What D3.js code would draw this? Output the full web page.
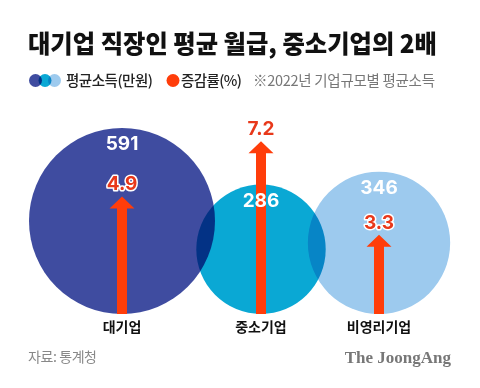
<!DOCTYPE html>
<html><head><meta charset="utf-8">
<script src="https://cdn.jsdelivr.net/npm/d3@7"></script>
<style>
html,body{margin:0;padding:0;background:#fff;}
svg{display:block;font-family:"Noto Sans CJK KR","Noto Sans",sans-serif;}
</style></head><body>
<svg id="c" width="480" height="388"></svg>
<script>
const categories = ["대기업", "중소기업", "비영리기업"];
const income = [591, 286, 346];
const change = [4.9, 7.2, 3.3];
const colors = ["#3f4ca0", "#0aa8d4", "#9dcaee"];
const centersX = [122, 261, 379];

const svg = d3.select("#c");
const baseY = 314;
const rScale = d3.scaleSqrt().domain([0, 591]).range([0, 93]);
const hScale = d3.scaleLinear().domain([0, 1]).range([0, 24]);

// title
svg.append("text").attr("x", 28).attr("y", 53).attr("font-size", 25).attr("font-weight", 900)
  .attr("fill", "#111").attr("textLength", 409).attr("lengthAdjust", "spacingAndGlyphs")
  .text("대기업 직장인 평균 월급, 중소기업의 2배");

// legend
const lg = svg.append("g").style("isolation", "isolate");
[[35.5, colors[0]], [45, colors[1]], [54.5, colors[2]]].forEach(([x, c]) => {
  lg.append("circle").attr("cx", x).attr("cy", 80.5).attr("r", 6.5).attr("fill", c).style("mix-blend-mode", "multiply");
});
lg.append("text").attr("x", 66).attr("y", 86).attr("font-size", 14.5).attr("font-weight", 500).attr("fill", "#222")
  .attr("textLength", 87).text("평균소득(만원)");
lg.append("circle").attr("cx", 173).attr("cy", 80.5).attr("r", 6.5).attr("fill", "#ff3d0a");
lg.append("text").attr("x", 181).attr("y", 86).attr("font-size", 14.5).attr("font-weight", 500).attr("fill", "#222")
  .attr("textLength", 61).text("증감률(%)");
lg.append("text").attr("x", 253).attr("y", 86).attr("font-size", 14.5).attr("fill", "#777")
  .attr("textLength", 182).text("※2022년 기업규모별 평균소득");

// circles
const g = svg.append("g").style("isolation", "isolate");
categories.forEach((c, i) => {
  const r = rScale(income[i]);
  g.append("circle").attr("cx", centersX[i]).attr("cy", baseY - r).attr("r", r)
    .attr("fill", colors[i]).style("mix-blend-mode", "multiply");
});

// arrows
categories.forEach((c, i) => {
  const x = centersX[i];
  const top = baseY - hScale(change[i]);
  const sw = 10, hw = 12.5, hh = 12;
  svg.append("path")
    .attr("d", `M${x - sw / 2},${baseY} L${x - sw / 2},${top + hh} L${x - hw},${top + hh} L${x},${top} L${x + hw},${top + hh} L${x + sw / 2},${top + hh} L${x + sw / 2},${baseY} Z`)
    .attr("fill", "#ff3d0a");
});

// income labels
categories.forEach((c, i) => {
  const r = rScale(income[i]);
  svg.append("text").attr("x", centersX[i]).attr("y", baseY - 2 * r + 22).attr("text-anchor", "middle")
    .attr("font-size", 19).attr("font-weight", 700).attr("fill", "#fff").attr("font-family", "Inter, 'Noto Sans', sans-serif").text(income[i]);
});

// change labels
categories.forEach((c, i) => {
  const top = baseY - hScale(change[i]);
  svg.append("text").attr("x", centersX[i]).attr("y", top - 6).attr("text-anchor", "middle")
    .attr("font-size", 19).attr("font-weight", 700).attr("fill", "#e8381a")
    .attr("stroke", "#fff").attr("stroke-width", 3).attr("paint-order", "stroke").attr("stroke-linejoin", "round")
    .attr("font-family", "Inter, 'Noto Sans', sans-serif").text(change[i].toFixed(1));
});

// category labels
categories.forEach((c, i) => {
  svg.append("text").attr("x", centersX[i]).attr("y", 332).attr("text-anchor", "middle")
    .attr("font-size", 14).attr("font-weight", 700).attr("fill", "#111").text(c);
});

// footer
svg.append("text").attr("x", 28).attr("y", 362).attr("font-size", 14).attr("fill", "#888")
  .attr("textLength", 69).text("자료: 통계청");
svg.append("text").attr("x", 451).attr("y", 363).attr("text-anchor", "end").attr("font-size", 17).attr("font-weight", 700)
  .attr("fill", "#777").attr("font-family", "'Liberation Serif', 'DejaVu Serif', serif").text("The JoongAng");
</script>
</body></html>
